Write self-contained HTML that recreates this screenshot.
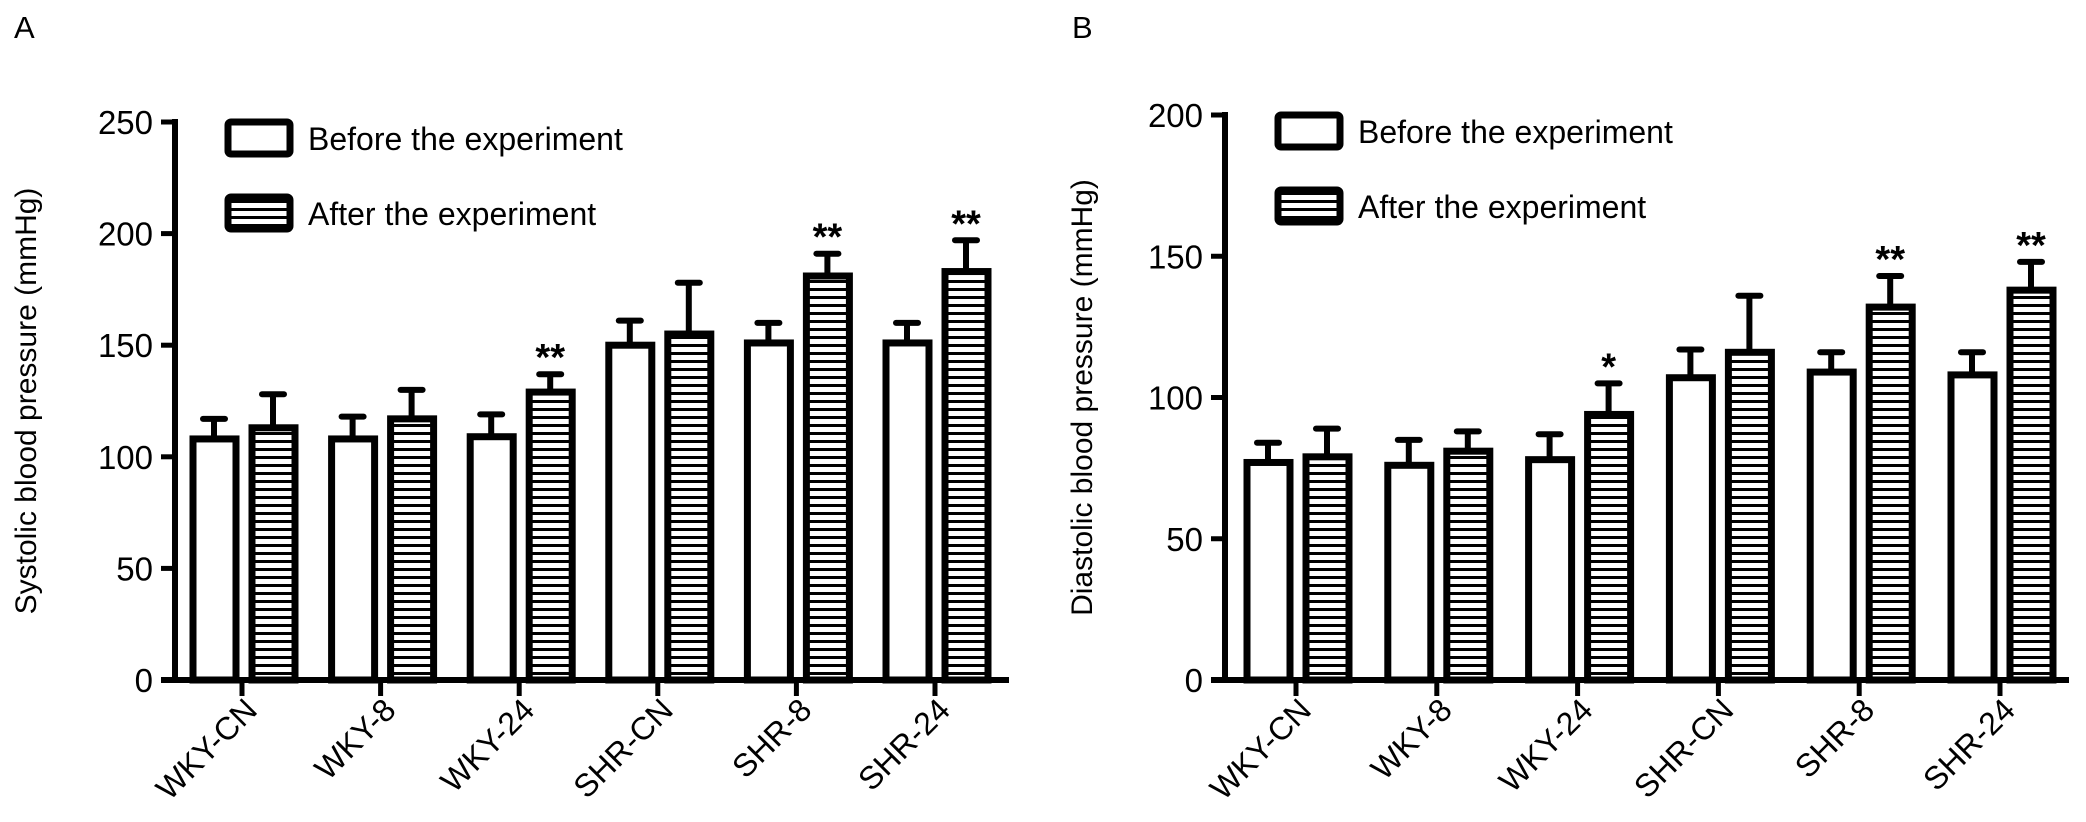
<!DOCTYPE html>
<html><head><meta charset="utf-8"><style>
body{margin:0;background:#fff}
svg{display:block;font-family:"Liberation Sans",Arial,sans-serif}
</style></head><body>
<svg id="chart" width="2086" height="822" viewBox="0 0 2086 822" xmlns="http://www.w3.org/2000/svg">
<defs>
<pattern id="hatch" patternUnits="userSpaceOnUse" width="10" height="8"><rect width="10" height="8" fill="#fff"/><rect y="0" width="10" height="3" fill="#000"/></pattern>
</defs>
</svg>
<script>
const categories = ["WKY-CN","WKY-8","WKY-24","SHR-CN","SHR-8","SHR-24"];
const sysBefore = [108,108,109,150,151,151];
const sysBeforeErr = [117,118,119,161,160,160];
const sysAfter = [113,117,129,155,181,183];
const sysAfterErr = [128,130,137,178,191,197];
const sysStars = ["","","**","","**","**"];
const sysTicks = [0,50,100,150,200,250];
const diaBefore = [77,76,78,107,109,108];
const diaBeforeErr = [84,85,87,117,116,116];
const diaAfter = [79,81,94,116,132,138];
const diaAfterErr = [89,88,105,136,143,148];
const diaStars = ["","","*","","**","**"];
const diaTicks = [0,50,100,150,200];

const svg = document.getElementById('chart');
const NS = "http://www.w3.org/2000/svg";
function mk(tag, attrs, parent){
  const e = document.createElementNS(NS, tag);
  for (const k in attrs) e.setAttribute(k, attrs[k]);
  (parent||svg).appendChild(e);
  return e;
}
function panel(cfg){
  const g = mk('g',{});
  
  
  const y0 = 680, yTop = cfg.yTop, max = cfg.max;
  const Y = v => y0 - (v/max)*(y0-yTop);
  const X = i => cfg.x0 + i*cfg.step;
  const L = mk('text',{x:cfg.letterX,y:38,'font-size':31},g); L.textContent = cfg.letter;
  
  
  const yl = mk('text',{x:0,y:0,'font-size':30,'text-anchor':'middle',transform:`translate(${cfg.ylabX},${(y0+yTop)/2}) rotate(-90)`},g);
  yl.textContent = cfg.ylab;
  
  
  categories.forEach((c,i)=>{
    const t = X(i);
    const specs = [[cfg.before[i],cfg.beforeErr[i],t-52,'#fff','before'],[cfg.after[i],cfg.afterErr[i],t+7,'url(#hatch)','after']];
    specs.forEach(([v,e,x,fill,kind])=>{
      const cx = x+24;
      const el = mk('line',{x1:cx,x2:cx,y1:Y(v),y2:Y(e),stroke:'#000','stroke-width':6},g);
      
      
      const cap = mk('line',{x1:cx-11,x2:cx+11,y1:Y(e),y2:Y(e),stroke:'#000','stroke-width':6,'stroke-linecap':'round'},g);
      
      
      const r = mk('rect',{x:x+3,y:Y(v),width:43,height:y0-Y(v),fill:fill,stroke:'#000','stroke-width':7},g);
      
      
    });
    if (cfg.stars[i]){
      const s = mk('text',{x:t+31,y:Y(cfg.afterErr[i])-4,'font-size':38,'font-weight':'bold','text-anchor':'middle'},g);
      s.textContent = cfg.stars[i];
      
      
    }
    const tk = mk('line',{x1:t,x2:t,y1:y0,y2:y0+16,stroke:'#000','stroke-width':5},g);
    
    
    const lb = mk('text',{x:0,y:0,'font-size':32,'text-anchor':'end',transform:`translate(${t+17},${y0+32}) rotate(-45)`},g);
    lb.textContent = c;
    
    
  });
  const ya = mk('line',{x1:cfg.ax,x2:cfg.ax,y1:yTop-3,y2:y0+3,stroke:'#000','stroke-width':6},g);
  
  
  const xa = mk('line',{x1:cfg.ax-14,x2:cfg.axEnd,y1:y0,y2:y0,stroke:'#000','stroke-width':6},g);
  
  
  cfg.ticks.forEach(v=>{
    const tl = mk('line',{x1:cfg.ax-14,x2:cfg.ax,y1:Y(v),y2:Y(v),stroke:'#000','stroke-width':5},g);
    
    
    const tt = mk('text',{x:cfg.ax-22,y:Y(v)+12,'font-size':33,'text-anchor':'end'},g);
    tt.textContent = v;
    
    
  });
  const lg = mk('g',{},g);
  
  
  const b1 = mk('rect',{x:cfg.legX,y:cfg.legY,width:62,height:32,fill:'#fff',stroke:'#000','stroke-width':7,rx:3},lg);
  
  
  const t1 = mk('text',{x:cfg.legX+80,y:cfg.legY+28,'font-size':32},lg); t1.textContent='Before the experiment';
  
  
  const b2 = mk('rect',{x:cfg.legX,y:cfg.legY+75,width:62,height:32,fill:'url(#hatch)',stroke:'#000','stroke-width':7,rx:3},lg);
  
  
  const t2 = mk('text',{x:cfg.legX+80,y:cfg.legY+103,'font-size':32},lg); t2.textContent='After the experiment';
  
  
}
panel({name:'panel-a-systolic',letter:'A',letterX:14,ylab:'Systolic blood pressure (mmHg)',ylabX:36,
  ax:175,axEnd:1009,x0:242,step:138.6,yTop:122,max:250,ticks:sysTicks,
  before:sysBefore,beforeErr:sysBeforeErr,after:sysAfter,afterErr:sysAfterErr,stars:sysStars,legX:228,legY:122});
panel({name:'panel-b-diastolic',letter:'B',letterX:1072,ylab:'Diastolic blood pressure  (mmHg)',ylabX:1092,
  ax:1225,axEnd:2069,x0:1296,step:140.8,yTop:115,max:200,ticks:diaTicks,
  before:diaBefore,beforeErr:diaBeforeErr,after:diaAfter,afterErr:diaAfterErr,stars:diaStars,legX:1278,legY:115});
</script>
</body></html>
